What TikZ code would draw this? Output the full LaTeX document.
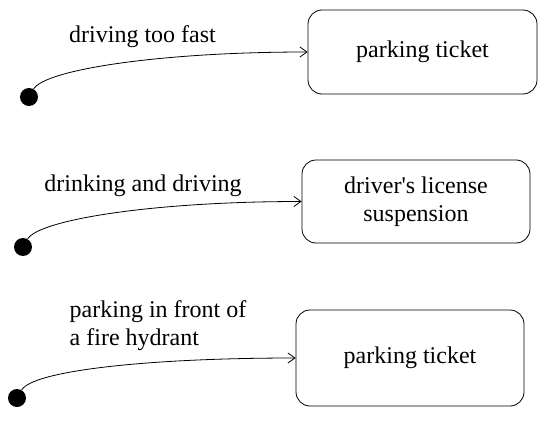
\documentclass[tikz,border=0pt]{standalone}
\usepackage{fontspec}
\setmainfont{Liberation Serif}
\usetikzlibrary{arrows.meta, positioning}

\begin{document}
\begin{tikzpicture}[x=1pt, y=1pt,
    state/.style={draw, rounded corners=14pt, line width=0.8pt, minimum width=229pt,
        minimum height=84pt, align=center, font=\fontsize{24}{28}\selectfont},
    init/.style={circle, fill=black, inner sep=0pt, minimum size=18pt},
    event/.style={align=left, font=\fontsize{24}{28}\selectfont},
    trans/.style={line width=0.8pt, -{Straight Barb[length=7pt, width=10pt]}}]
    \useasboundingbox (0,0) rectangle (546,424);

    % Speeding
    \node[init] (dot1) at (29,327) {};
    \node[state] (ticket1) at (422.5,372) {parking ticket};
    \node[event] (speed) at (142.5,387) {driving too fast};
    \draw[trans] (dot1) to[out=60, in=180, out distance=22pt, in distance=150pt] (ticket1.west);

    % Drunk driving
    \node[init] (dot2) at (23,177) {};
    \node[state, minimum width=228pt, minimum height=83pt] (license) at (416,222.5)
        {driver\textquotesingle s license\\suspension};
    \node[event] (drunk) at (143,238) {drinking and driving};
    \draw[trans] (dot2) to[out=60, in=180, out distance=22pt, in distance=150pt] (license.west);

    % Hydrant
    \node[init] (dot3) at (17,26) {};
    \node[state, minimum width=228pt, minimum height=96pt] (ticket2) at (410,66) {parking ticket};
    \node[event] (hydrant) at (158,98) {parking in front of\\a fire hydrant};
    \draw[trans] (dot3) to[out=60, in=180, out distance=22pt, in distance=150pt] (ticket2.west);
\end{tikzpicture}
\end{document}
